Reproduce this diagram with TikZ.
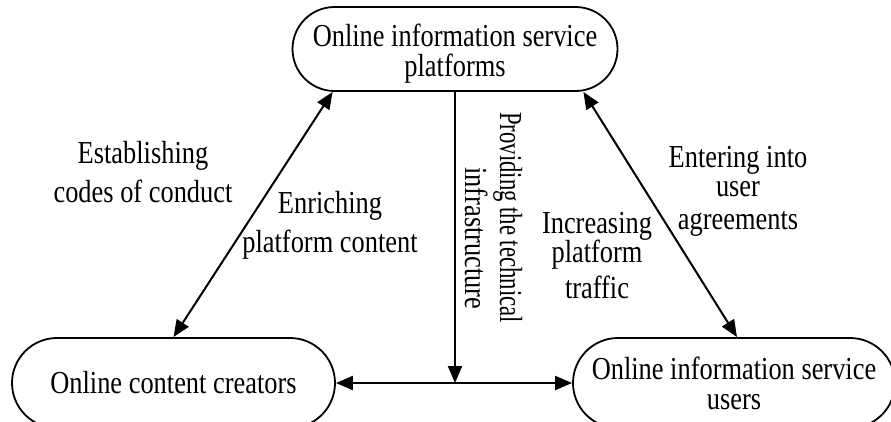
\documentclass[tikz,border=0pt]{standalone}
\usepackage{fontspec}
\setmainfont{Liberation Serif}[FakeStretch=0.825]
\usetikzlibrary{arrows.meta,calc}
\begin{document}
\begin{tikzpicture}[x=1pt,y=-1pt,
  font=\fontsize{32pt}{30pt}\selectfont,
  pill/.style={draw, line width=1.8pt, inner sep=0pt, align=center},
  lbl/.style={inner sep=0pt, align=center, anchor=base},
  tip/.tip={Triangle[length=17pt,width=14pt]},
  oneway/.style={line width=2pt, -tip},
  twoway/.style={line width=2pt, tip-tip}]
\clip (0,0) rectangle (891,421);

% the three parties
\node[pill, minimum width=325pt, minimum height=84pt, rounded corners=42pt]
  (plat) at (455,49) {\rule{0pt}{31pt}Online information service\\platforms};
\node[pill, minimum width=323pt, minimum height=90pt, rounded corners=45pt]
  (crea) at (173.5,383) {Online content creators};
\node[pill, minimum width=322pt, minimum height=90pt, rounded corners=45pt]
  (user) at (734,383) {Online information service\\users};

% relations between them
\coordinate (platL) at ($(plat.south west)+(41,0)$);
\coordinate (platR) at ($(plat.south east)+(-35,0)$);
\coordinate (meet) at (plat.south |- crea.east);
\draw[twoway] (crea.north) -- (platL);
\draw[twoway] (platR) -- ($(user.north)+(3,0)$);
\draw[twoway] (crea.east) -- (user.west);
\draw[oneway] (plat.south) -- (meet);

% labels of the relations (anchored on the baseline of their last line)
\node[lbl] (conduct) at (143,202) {Establishing\\[9pt]codes of conduct};
\node[lbl] (enrich) at (330,252) {Enriching\\[9pt]platform content};
\node[lbl] (traffic) at (597,298) {Increasing\\[-1pt]platform\\[6pt]traffic};
\node[lbl] (agree) at (738,229) {Entering into\\[-1pt]user\\[3pt]agreements};
\node[inner sep=0pt, align=left, anchor=base west, rotate=-90] (infra) at (465,112)
  {\scalebox{0.86}[1]{Providing the technical}\\[5pt]\hspace*{55pt}infrastructure};
\end{tikzpicture}
\end{document}
